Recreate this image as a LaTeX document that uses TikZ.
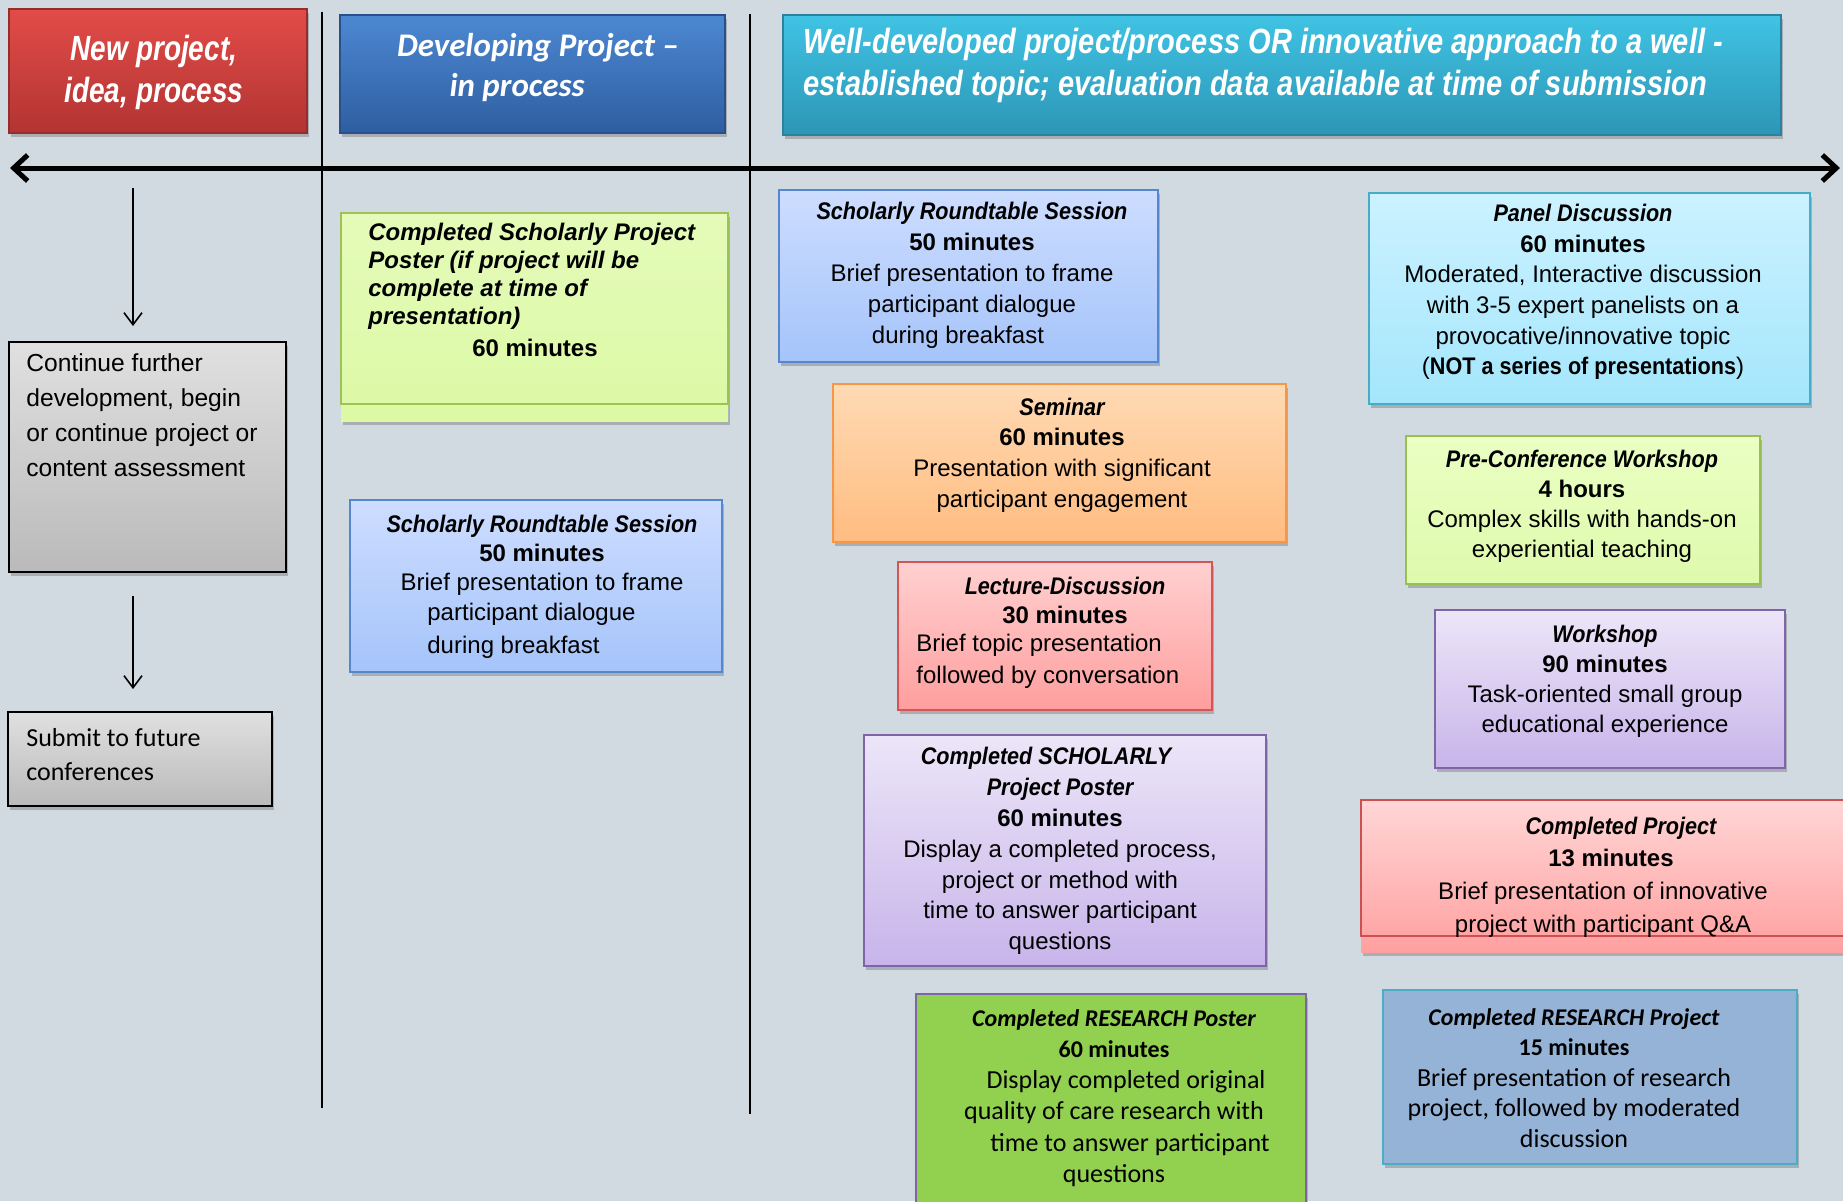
\documentclass[tikz,border=0pt]{standalone}
\usepackage{fontspec}
\setmainfont{Liberation Sans}
\newfontfamily\hdrfont[FakeStretch=0.8]{Liberation Sans}
\newfontfamily\hdrwfont[FakeStretch=0.83]{Liberation Sans}
\newfontfamily\ttlfont[FakeStretch=0.9]{Liberation Sans}
\newfontfamily\calfont{Carlito}
\usetikzlibrary{arrows.meta,fit,shadows}
\definecolor{bg}{RGB}{209,217,225}
\definecolor{redT}{RGB}{226,76,72}\definecolor{redB}{RGB}{178,52,50}\definecolor{redD}{RGB}{150,45,45}
\definecolor{bluT}{RGB}{76,136,210}\definecolor{bluB}{RGB}{46,94,160}\definecolor{bluD}{RGB}{40,80,140}
\definecolor{tealT}{RGB}{64,195,228}\definecolor{tealB}{RGB}{44,150,182}\definecolor{tealD}{RGB}{40,130,160}
\definecolor{greyT}{RGB}{224,224,224}\definecolor{greyB}{RGB}{186,186,186}
\definecolor{lgT}{RGB}{228,251,185}\definecolor{lgB}{RGB}{220,249,165}\definecolor{lgD}{RGB}{155,195,85}
\definecolor{rtT}{RGB}{205,221,255}\definecolor{rtB}{RGB}{165,196,250}\definecolor{rtD}{RGB}{85,135,205}
\definecolor{semT}{RGB}{255,218,180}\definecolor{semB}{RGB}{255,188,128}\definecolor{semD}{RGB}{246,150,70}
\definecolor{lecT}{RGB}{255,208,208}\definecolor{lecB}{RGB}{255,158,158}\definecolor{lecD}{RGB}{212,85,85}
\definecolor{purT}{RGB}{236,230,248}\definecolor{purB}{RGB}{200,180,234}\definecolor{purD}{RGB}{128,100,168}
\definecolor{rpost}{RGB}{146,208,80}
\definecolor{panT}{RGB}{204,242,255}\definecolor{panB}{RGB}{164,230,252}\definecolor{panD}{RGB}{70,172,200}
\definecolor{preT}{RGB}{234,255,195}\definecolor{preB}{RGB}{222,250,172}\definecolor{preD}{RGB}{150,192,80}
\definecolor{cpT}{RGB}{255,214,214}\definecolor{cpB}{RGB}{255,160,160}\definecolor{cpD}{RGB}{205,80,80}
\definecolor{rproj}{RGB}{149,179,215}\definecolor{rprojD}{RGB}{75,172,198}
\newcommand\ttl[1]{{\ttlfont\bfseries\itshape #1}}
\newcommand\mins[1]{{\bfseries #1}}
\newcommand\cttl[1]{{\calfont\bfseries\itshape\fontsize{12}{15}\selectfont #1}}
\newcommand\cmins[1]{{\calfont\bfseries\fontsize{12}{15}\selectfont #1}}
\begin{document}
\begin{tikzpicture}[x=0.5pt,y=-0.5pt,
  shad/.style={drop shadow={shadow xshift=0.8pt,shadow yshift=-1.8pt,opacity=0.3,fill=black!70}},
  box/.style={draw, line width=1pt, inner sep=0pt, shad},
  hdr/.style={draw, line width=0.6pt, inner sep=0pt, shad},
  txt/.style={inner sep=0pt, align=center},
  ltxt/.style={inner sep=0pt, align=left, anchor=west},
  sepline/.style={line width=0.8pt},
  downarrow/.style={line width=0.8pt, -{Straight Barb[length=6pt,width=9pt]}},
  axisarrow/.style={line width=2.5pt, {Straight Barb[length=7pt,width=13pt]}-{Straight Barb[length=7pt,width=13pt]}}
]
\useasboundingbox (0,0) rectangle (1843,1201);
\fill[bg] (0,0) rectangle (1843,1201);

% separators and axis
\coordinate (s1t) at (322,12); \coordinate (s1b) at (322,1108);
\coordinate (s2t) at (750,14); \coordinate (s2b) at (750,1114);
\draw[sepline] (s1t) -- (s1b);
\draw[sepline] (s2t) -- (s2b);
\coordinate (axL) at (10,168); \coordinate (axR) at (1840,168);
\draw[axisarrow] (axL) -- (axR);

% headers
\node[hdr, top color=redT, bottom color=redB, draw=redD, fit={(9,9)(307,133)}] (h1) {};
\node[txt, text=white, font=\hdrfont\bfseries\itshape\fontsize{17.5}{21}\selectfont] (h1t) at (154,72) {New project,\\idea, process};
\node[hdr, top color=bluT, bottom color=bluB, draw=bluD, fit={(340,15)(725,133)}] (h2) {};
\node[txt, text=white, font=\calfont\bfseries\itshape\fontsize{16.5}{20}\selectfont] (h2t) at (538,68) {Developing Project –\\in process\hspace*{21pt}};
\node[hdr, top color=tealT, bottom color=tealB, draw=tealD, fit={(783,15)(1781,135)}] (h3) {};
\node[ltxt, text=white, font=\hdrwfont\bfseries\itshape\fontsize{17.5}{21}\selectfont] (h3t) at (803,65) {Well-developed project/process OR innovative approach to a well -\\established topic; evaluation data available at time of submission};

% left column
\node[box, draw=black, top color=greyT, bottom color=greyB, fit={(9,342)(286,572)}] (g1) {};
\node[ltxt, font=\fontsize{12.3}{17.5}\selectfont] (g1t) at (26,415) {Continue further\\development,  begin\\or continue project or\\content assessment};
\node[box, draw=black, top color=greyT, bottom color=greyB, fit={(8,712)(272,806)}] (g2) {};
\node[ltxt, font=\calfont\fontsize{13}{17}\selectfont] (g2t) at (26,755) {Submit to future\\conferences};
\coordinate (a1s) at (133,188); \coordinate (a1e) at (133,326);
\coordinate (a2s) at (133,596); \coordinate (a2e) at (133,689);
\draw[downarrow] (a1s) -- (a1e);
\draw[downarrow] (a2s) -- (a2e);

% column 2
\node[inner sep=0pt, shad, top color=lgT, bottom color=lgB, fit={(341,213)(728,421)}] (p1fill) {};
\node[draw=lgD, line width=1pt, inner sep=0pt, fit={(341,213)(728,404)}] (p1) {};
\node[ltxt, font=\bfseries\itshape\fontsize{12}{14}\selectfont] (p1t) at (368,276) {Completed Scholarly Project\\Poster (if project will be\\complete at time of\\presentation)};
\node[txt, font=\bfseries\fontsize{12}{14}\selectfont] (p1m) at (535,348) {60 minutes};

\node[box, draw=rtD, top color=rtT, bottom color=rtB, fit={(350,500)(722,672)}] (r1) {};
\node[txt, font=\fontsize{12}{14.5}\selectfont] (r1t) at (542,555) {\ttl{Scholarly Roundtable Session}\\\mins{50 minutes}\\Brief presentation to frame};
\node[ltxt, font=\fontsize{12}{16.5}\selectfont] (r1u) at (427,631) {participant dialogue\\during breakfast};

% column 3
\node[box, draw=rtD, top color=rtT, bottom color=rtB, fit={(779,190)(1158,362)}] (r2) {};
\node[txt, font=\fontsize{12}{15.5}\selectfont] (r2t) at (972,275) {\ttl{Scholarly Roundtable Session}\\\mins{50 minutes}\\Brief presentation to frame\\participant dialogue\\during breakfast\hspace*{14pt}};

\node[box, draw=semD, top color=semT, bottom color=semB, fit={(833,384)(1286,542)}] (sem) {};
\node[txt, font=\fontsize{12}{15.3}\selectfont] (semt) at (1062,455) {\ttl{Seminar}\\\mins{60 minutes}\\Presentation with significant\\participant engagement};

\node[box, draw=lecD, top color=lecT, bottom color=lecB, fit={(898,562)(1212,710)}] (lec) {};
\node[txt, font=\fontsize{12}{14.5}\selectfont] (lect) at (1065,600) {\ttl{Lecture-Discussion}\\\mins{30 minutes}};
\node[ltxt, font=\fontsize{12}{16}\selectfont] (lecu) at (916,661) {Brief topic presentation\\followed by conversation};

\node[box, draw=purD, top color=purT, bottom color=purB, fit={(864,735)(1266,966)}] (sp) {};
\node[txt, font=\fontsize{12}{15.4}\selectfont] (spt) at (1060,851) {\ttl{Completed SCHOLARLY}\hspace*{14pt}\\\ttl{Project Poster}\\\mins{60 minutes}\\Display a completed process,\\project or method with\\time to answer participant\\questions};

\node[box, draw=purD, fill=rpost, fit={(916,994)(1306,1215)}] (rp) {};
\node[txt, font=\calfont\fontsize{13}{15.6}\selectfont] (rpt) at (1114,1098) {\cttl{Completed RESEARCH Poster}\\\cmins{60 minutes}\\\hspace*{12pt}Display completed original\\quality of care research with\\\hspace*{16pt}time to answer participant\\questions};

% column 4
\node[box, draw=panD, top color=panT, bottom color=panB, fit={(1369,193)(1810,404)}] (pan) {};
\node[txt, font=\fontsize{12}{15.3}\selectfont] (pant) at (1583,292) {\ttl{Panel Discussion}\\\mins{60 minutes}\\Moderated, Interactive discussion\\with 3-5 expert panelists on a\\provocative/innovative topic\\({\ttlfont\bfseries NOT a series of presentations})};

\node[box, draw=preD, top color=preT, bottom color=preB, fit={(1406,436)(1760,584)}] (pre) {};
\node[txt, font=\fontsize{12}{15}\selectfont] (pret) at (1582,506) {\ttl{Pre-Conference Workshop}\\\mins{4 hours}\\Complex skills with hands-on\\experiential teaching};

\node[box, draw=purD, top color=purT, bottom color=purB, fit={(1435,610)(1785,768)}] (ws) {};
\node[txt, font=\fontsize{12}{15}\selectfont] (wst) at (1605,681) {\ttl{Workshop}\\\mins{90 minutes}\\Task-oriented small group\\educational experience};

\node[inner sep=0pt, shad, top color=cpT, bottom color=cpB, fit={(1361,800)(1850,952)}] (cpfill) {};
\node[draw=cpD, line width=1pt, inner sep=0pt, fit={(1361,800)(1850,936)}] (cp) {};
\node[txt, font=\fontsize{12}{16.4}\selectfont] (cpt) at (1603,877) {\hspace*{18pt}\ttl{Completed Project}\\\hspace*{8pt}\mins{13 minutes}\\Brief presentation of innovative\\project with participant Q\&A};

\node[box, draw=rprojD, fill=rproj, fit={(1383,990)(1797,1164)}] (rj) {};
\node[txt, font=\calfont\fontsize{13}{15.25}\selectfont] (rjt) at (1574,1078) {\cttl{Completed RESEARCH Project}\\\cmins{15 minutes}\\Brief presentation of research\\project, followed by moderated\\discussion};
\end{tikzpicture}
\end{document}
